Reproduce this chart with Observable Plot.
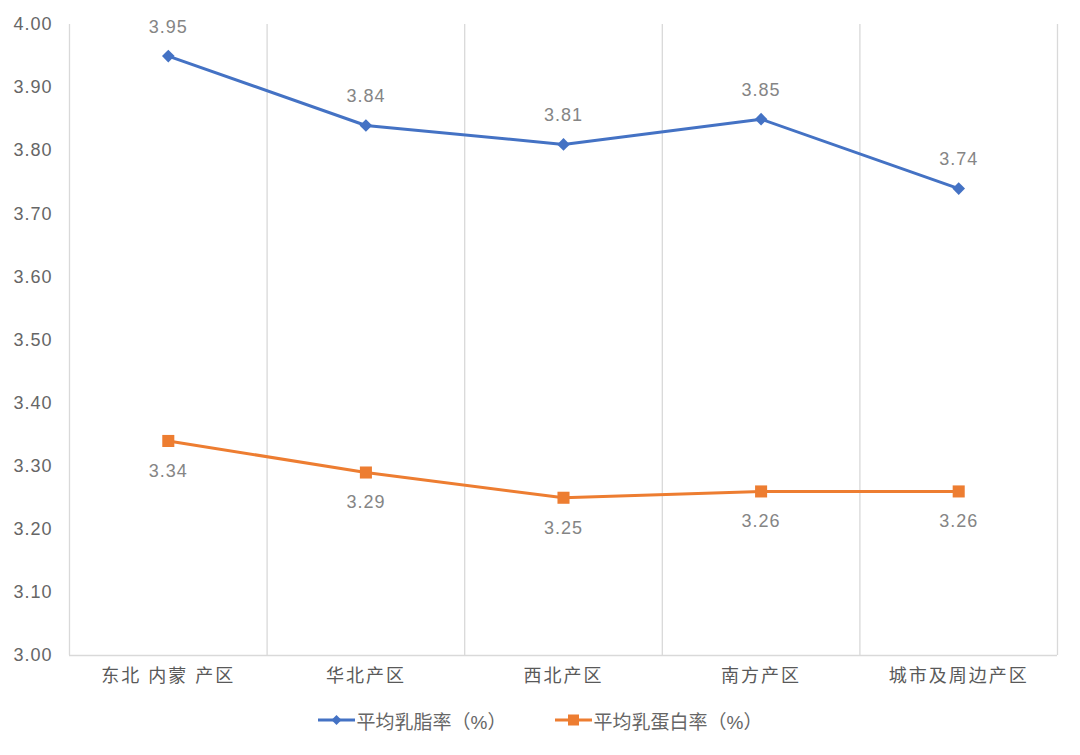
<!DOCTYPE html>
<html><head><meta charset="utf-8">
<script src="https://cdn.jsdelivr.net/npm/d3@7"></script>
<script src="https://cdn.jsdelivr.net/npm/@observablehq/plot@0.6"></script>
<style>
body{margin:0;background:#fff;font-family:"Liberation Sans","Noto Sans CJK SC",sans-serif;}
#legend{display:flex;justify-content:center;gap:48px;align-items:center;height:40px;font-size:19px;color:#666666;}
#legend .item{display:flex;align-items:center;gap:2px;}
g[aria-label="x-axis tick label"] text{letter-spacing:2px;}
g[aria-label="y-axis tick label"] text{letter-spacing:1px;}
g[aria-label="text"] text{letter-spacing:1px;}
</style></head><body><div id="chart"></div><div id="legend"></div>
<script>
const regions = ["东北 内蒙 产区","华北产区","西北产区","南方产区","城市及周边产区"];
const fatValues = [3.95,3.84,3.81,3.85,3.74];
const proteinValues = [3.34,3.29,3.25,3.26,3.26];
const seriesNames = ["平均乳脂率（%）","平均乳蛋白率（%）"];
const seriesColors = ["#4472C4","#ED7D31"];
const yTicks = [3.0,3.1,3.2,3.3,3.4,3.5,3.6,3.7,3.8,3.9,4.0];

const W = 1080, H = 700, mL = 69, mR = 23, mT = 24, mB = 45;
const bw = (W - mL - mR) / regions.length;

const fat = regions.map((r, i) => ({region: r, value: fatValues[i]}));
const protein = regions.map((r, i) => ({region: r, value: proteinValues[i]}));

const chart = Plot.plot({
  width: W, height: H,
  marginLeft: mL, marginRight: mR, marginTop: mT, marginBottom: mB,
  style: {fontFamily: '"Liberation Sans","Noto Sans CJK SC",sans-serif', background: "#fff"},
  x: {type: "band", domain: regions, padding: 0, round: false, label: null, tickSize: 0, tickPadding: 14},
  y: {domain: [3.0, 4.0], ticks: yTicks, tickFormat: d3.format(".2f"), label: null, tickSize: 0, tickPadding: 17},
  marks: [
    Plot.ruleX(regions, {x: d => d, dx: -bw / 2, stroke: "#d9d9d9", strokeWidth: 1.3, strokeOpacity: 1}),
    Plot.ruleX([regions[regions.length - 1]], {x: d => d, dx: bw / 2, stroke: "#d9d9d9", strokeWidth: 1.3, strokeOpacity: 1}),
    Plot.ruleY([3.0], {stroke: "#d9d9d9", strokeWidth: 1.3}),
    Plot.axisX({tickSize: 0, tickPadding: 14, fontSize: 18, fill: "#595959", label: null}),
    Plot.axisY({ticks: yTicks, tickFormat: d3.format(".2f"), tickSize: 0, tickPadding: 17, fontSize: 18, fill: "#666666", label: null}),
    Plot.line(fat, {x: "region", y: "value", stroke: seriesColors[0], strokeWidth: 3}),
    Plot.line(protein, {x: "region", y: "value", stroke: seriesColors[1], strokeWidth: 3}),
    Plot.dot(fat, {x: "region", y: "value", symbol: "diamond2", r: 5.7, fill: seriesColors[0], stroke: "none"}),
    Plot.dot(protein, {x: "region", y: "value", symbol: "square", r: 6.8, fill: seriesColors[1], stroke: "none"}),
    Plot.text(fat, {x: "region", y: "value", text: d => d3.format(".2f")(d.value), dy: -29, fontSize: 18, fill: "#858585"}),
    Plot.text(protein, {x: "region", y: "value", text: d => d3.format(".2f")(d.value), dy: 30, fontSize: 18, fill: "#858585"})
  ]
});
document.getElementById("chart").appendChild(chart);

const legend = document.getElementById("legend");
const markers = [
  `<path d="M18.5,2 L23.5,7 L18.5,12 L13.5,7 Z" fill="${seriesColors[0]}"/>`,
  `<rect x="13" y="1.5" width="11" height="11" fill="${seriesColors[1]}"/>`
];
seriesNames.forEach((name, i) => {
  const item = document.createElement("div");
  item.className = "item";
  item.innerHTML = `<svg width="37" height="14"><line x1="0" x2="37" y1="7" y2="7" stroke="${seriesColors[i]}" stroke-width="3"/>${markers[i]}</svg><span>${name}</span>`;
  legend.appendChild(item);
});
</script></body></html>
